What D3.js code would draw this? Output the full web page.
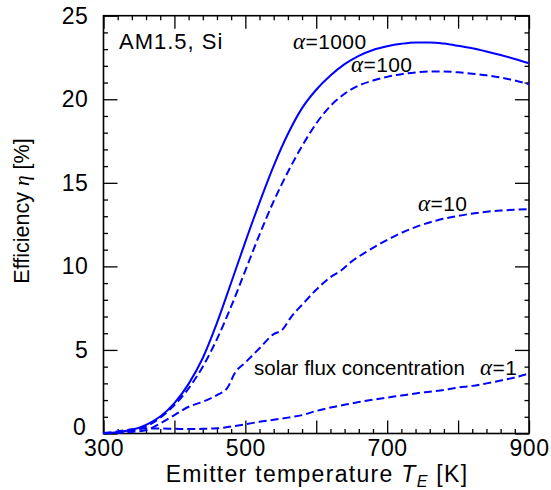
<!DOCTYPE html>
<html>
<head>
<meta charset="utf-8">
<script src="https://cdn.jsdelivr.net/npm/d3@7"></script>
<style>
  body { margin: 0; background: #fff; }
  svg text { font-family: "Liberation Sans", Arial, sans-serif; fill: #000; }
</style>
</head>
<body>
<script>
// emitter temperature [K] and efficiency [%]
const tempK = [300,320,340,360,380,400,420,440,460,480,500,520,540,560,580,600,
               620,640,660,680,700,720,740,760,780,800,820,840,860,880,900]
const eff1000 = [0.03,0.08,0.22,0.52,1.02,1.82,2.97,4.52,6.62,9.02,11.47,13.82,16.02,17.92,19.47,20.57,
                 21.42,22.1,22.6,22.95,23.17,23.32,23.4,23.4,23.33,23.2,23.05,22.86,22.65,22.41,22.15]
const eff100 = [0.02,0.06,0.16,0.42,0.95,1.7,2.7,4.0,5.65,7.6,9.75,11.9,13.9,15.65,17.2,18.55,
                19.6,20.33,20.82,21.12,21.34,21.5,21.6,21.66,21.66,21.61,21.53,21.43,21.3,21.12,20.9]
const eff1 = [0.03,0.12,0.25,0.3,0.3,0.28,0.27,0.28,0.31,0.42,0.55,0.7,0.82,0.95,1.1,1.35,
              1.55,1.72,1.88,2.02,2.15,2.27,2.4,2.5,2.6,2.75,2.85,3.0,3.17,3.35,3.6]
// alpha=10 has kinks, so it gets its own temperatures
const temp10 = [300,320,340,360,380,400,420,440,460,475,485,500,520,540,552,565,580,600,
                620,635,650,670,690,710,740,770,800,830,860,900]
const eff10 = [0.02,0.04,0.1,0.2,0.6,1.1,1.6,1.9,2.3,2.75,3.6,4.25,5.1,5.95,6.2,7.0,7.7,8.6,
               9.35,9.75,10.3,10.85,11.35,11.8,12.35,12.75,13.02,13.22,13.34,13.42]

const xLabelTicks = [300, 500, 700, 900]

const W = 551, H = 490
const x0 = 103.5, x1 = 529, y0 = 433.5, y1 = 15.7

const svg = d3.select("body").append("svg")
    .attr("width", W)
    .attr("height", H)

const x = d3.scaleLinear().domain([300, 900]).range([x0, x1])
const y = d3.scaleLinear().domain([0, 25]).range([y0, y1])

const majorX = d3.range(300, 901, 100)
const minorX = d3.range(300, 901, 20).filter(d => d % 100 != 0)
const majorY = d3.range(0, 26, 5)
const minorY = d3.range(0, 26, 1).filter(d => d % 5 != 0)

function styleAxis(g){
    g.select(".domain").remove()
    g.selectAll(".tick line").attr("stroke", "#000").attr("stroke-width", 1.3)
    g.selectAll(".tick text").style("font-size", "23px").style("letter-spacing", "0.6px")
}

// bottom
svg.append("g").attr("transform", `translate(0,${y0})`)
    .call(d3.axisBottom(x).tickValues(majorX).tickSize(-13).tickPadding(6.5)
        .tickFormat(d => xLabelTicks.includes(d) ? d : ""))
    .call(styleAxis)
svg.append("g").attr("transform", `translate(0,${y0})`)
    .call(d3.axisBottom(x).tickValues(minorX).tickSize(-4.5).tickFormat(""))
    .call(styleAxis)
// top
svg.append("g").attr("transform", `translate(0,${y1})`)
    .call(d3.axisTop(x).tickValues(majorX).tickSize(-13).tickFormat(""))
    .call(styleAxis)
svg.append("g").attr("transform", `translate(0,${y1})`)
    .call(d3.axisTop(x).tickValues(minorX).tickSize(-4.5).tickFormat(""))
    .call(styleAxis)
// left
const yAxisG = svg.append("g").attr("transform", `translate(${x0},0)`)
    .call(d3.axisLeft(y).tickValues(majorY).tickSize(-14).tickPadding(15))
    .call(styleAxis)
// the "0" sits just above the "300" on the x axis
yAxisG.selectAll(".tick text").filter(d => d == 0).attr("dy", "0.05em").attr("x", -17)
svg.append("g").attr("transform", `translate(${x0},0)`)
    .call(d3.axisLeft(y).tickValues(minorY).tickSize(-4.5).tickFormat(""))
    .call(styleAxis)
// right
svg.append("g").attr("transform", `translate(${x1},0)`)
    .call(d3.axisRight(y).tickValues(majorY).tickSize(-14).tickFormat(""))
    .call(styleAxis)
svg.append("g").attr("transform", `translate(${x1},0)`)
    .call(d3.axisRight(y).tickValues(minorY).tickSize(-4.5).tickFormat(""))
    .call(styleAxis)

svg.append("rect")
    .attr("x", x0).attr("y", y1)
    .attr("width", x1 - x0).attr("height", y0 - y1)
    .attr("fill", "none").attr("stroke", "#000").attr("stroke-width", 1.6)

// curves
const line = d3.line().x(d => x(d[0])).y(d => y(d[1])).curve(d3.curveMonotoneX)
const series = [
    {t: tempK, v: eff1000, dash: null},
    {t: tempK, v: eff100, dash: "8,4"},
    {t: temp10, v: eff10, dash: "8,4"},
    {t: tempK, v: eff1, dash: "8,4"}
]
series.forEach(s => {
    svg.append("path")
        .datum(s.t.map((t, i) => [t, s.v[i]]))
        .attr("d", line)
        .attr("fill", "none")
        .attr("stroke", "#0000ff")
        .attr("stroke-width", 2)
        .attr("stroke-dasharray", s.dash)
})

// labels
function alphaLabel(px, py, rest){
    const t = svg.append("text").attr("x", px).attr("y", py)
        .style("font-size", "21px").style("letter-spacing", "0.4px")
    t.append("tspan").text("α")
        .style("font-family", "'Liberation Serif', serif").style("font-style", "italic")
        .style("font-size", "23px")
    t.append("tspan").text(rest)
    return t
}

svg.append("text").attr("x", 119).attr("y", 48.5)
    .style("font-size", "22px").style("letter-spacing", "1px").text("AM1.5, Si")
alphaLabel(293, 48.5, "=1000")
alphaLabel(351, 71.5, "=100")
alphaLabel(418, 210.5, "=10")
svg.append("text").attr("x", 254).attr("y", 375)
    .style("font-size", "20.5px").text("solar flux concentration")
alphaLabel(480, 375, "=1")

// axis titles
const xt = svg.append("text")
    .attr("x", 317).attr("y", 482)
    .attr("text-anchor", "middle")
    .style("font-size", "23px").style("letter-spacing", "1.3px")
xt.append("tspan").text("Emitter temperature ")
xt.append("tspan").text("T").style("font-style", "italic")
xt.append("tspan").text("E").style("font-style", "italic").style("font-size", "16px").attr("dy", 5)
xt.append("tspan").text(" [K]").attr("dy", -5)

const yt = svg.append("text")
    .attr("transform", "translate(29,211) rotate(-90)")
    .attr("text-anchor", "middle")
    .style("font-size", "21.5px")
yt.append("tspan").text("Efficiency  ")
yt.append("tspan").text("η").style("font-family", "'Liberation Serif', serif").style("font-style", "italic")
yt.append("tspan").text(" [%]")
</script>
</body>
</html>
